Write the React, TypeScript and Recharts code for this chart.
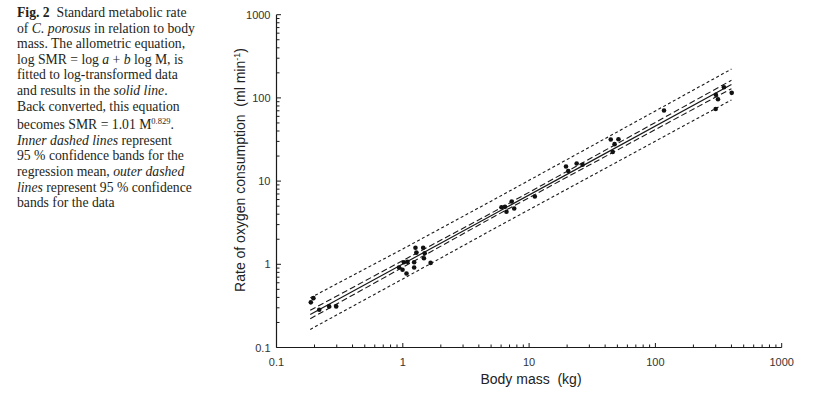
import { ComposedChart, Line, Scatter, XAxis, YAxis } from 'recharts';

// body mass (kg) and standard metabolic rate (ml/min) of each animal
const massKg = [
  0.187, 0.196, 0.218, 0.261, 0.297,
  0.933, 0.995, 1.02, 1.09, 1.07, 1.23, 1.23, 1.26, 1.28, 1.45, 1.49, 1.47, 1.66,
  6.04, 6.44, 6.62, 7.28, 7.62, 11.1,
  19.6, 20.4, 23.8, 26.5,
  44.3, 51.0, 47.5, 45.9,
  117,
  301, 349, 402, 313, 300,
];
const smrMl = [
  0.349, 0.392, 0.284, 0.312, 0.312,
  0.916, 0.859, 1.06, 1.07, 0.775, 1.06, 0.916, 1.58, 1.38, 1.58, 1.36, 1.18, 1.04,
  4.84, 4.91, 4.28, 5.69, 4.69, 6.53,
  15.0, 13.2, 16.3, 15.7,
  31.6, 31.9, 27.8, 22.4,
  70.6,
  109, 134, 115, 96.2, 73.6,
];

// fitted line and the two confidence bands, read at a few masses
const bandMass = [0.185, 1, 5, 30, 400];
const fitLine = [0.249, 1.01, 3.84, 16.9, 145];
const meanUpper = [0.28, 1.11, 4.11, 18.4, 163];
const meanLower = [0.222, 0.92, 3.58, 15.6, 129];
const dataUpper = [0.395, 1.53, 5.74, 25.5, 222];
const dataLower = [0.165, 0.667, 2.56, 11.2, 94.6];

const decades = [0.1, 1, 10, 100, 1000];
const steps = [1, 2, 3, 4, 5, 6, 7, 8, 9];
const logTicks = [
  ...decades.slice(0, -1).flatMap((d) => steps.map((k) => Number((k * d).toPrecision(2)))),
  1000,
];

const points = massKg.map((m, i) => ({ m, v: smrMl[i] }));
const band = (vals: number[]) => bandMass.map((m, i) => ({ m, v: vals[i] }));

const INK = '#1a1a1a';
const AXIS_FONT = 'Liberation Sans, Arial, sans-serif';

const XTick = (props: any) => {
  const { x, y, payload } = props;
  const major = decades.includes(payload.value);
  return (
    <g>
      <line x1={x} y1={y} x2={x} y2={y - (major ? 4.5 : 3)} stroke={INK} strokeWidth={1} />
      {major && (
        <text x={x} y={y + 18} textAnchor="middle" fontSize={11} fill="#333" fontFamily={AXIS_FONT}>
          {String(payload.value)}
        </text>
      )}
    </g>
  );
};

const YTick = (props: any) => {
  const { x, y, payload } = props;
  const major = decades.includes(payload.value);
  return (
    <g>
      <line x1={x} y1={y} x2={x + (major ? 4.5 : 3)} y2={y} stroke={INK} strokeWidth={1} />
      {major && (
        <text x={x - 6} y={y + 4} textAnchor="end" fontSize={11} fill="#333" fontFamily={AXIS_FONT}>
          {String(payload.value)}
        </text>
      )}
    </g>
  );
};

const YTitle = () => (
  <text
    x={245}
    y={170}
    transform="rotate(-90, 245, 170)"
    textAnchor="middle"
    fontSize={14}
    fill="#222"
    fontFamily={AXIS_FONT}
  >
    Rate of oxygen consumption{'\u00a0\u00a0'}(ml min
    <tspan dy={-5} fontSize={9}>-1</tspan>
    <tspan dy={5}>)</tspan>
  </text>
);

const XTitle = () => (
  <text x={531} y={384} textAnchor="middle" fontSize={14} fill="#222" fontFamily={AXIS_FONT}>
    Body mass{'\u00a0\u00a0'}(kg)
  </text>
);

const Dot = (p: any) => <circle cx={p.cx} cy={p.cy} r={2.3} fill="#111" />;

const captionLines = [
  <>
    <b>Fig. 2</b>&nbsp; Standard metabolic rate
  </>,
  <>
    of <i>C. porosus</i> in relation to body
  </>,
  <>mass. The allometric equation,</>,
  <>
    log SMR&nbsp;=&nbsp;log <i>a</i>&nbsp;+&nbsp;<i>b</i> log M, is
  </>,
  <>fitted to log-transformed data</>,
  <>
    and results in the <i>solid line</i>.
  </>,
  <>Back converted, this equation</>,
  <>
    becomes SMR&nbsp;=&nbsp;1.01 M<sup style={{ fontSize: 8.5, verticalAlign: 5 }}>0.829</sup>.
  </>,
  <>
    <i>Inner dashed lines</i> represent
  </>,
  <>95 % confidence bands for the</>,
  <>
    regression mean, <i>outer dashed</i>
  </>,
  <>
    <i>lines</i> represent 95 % confidence
  </>,
  <>bands for the data</>,
];

export default function App() {
  return (
    <div style={{ position: 'absolute', left: 0, top: 0, width: 813, height: 398, background: '#fff' }}>
      <div
        style={{
          position: 'absolute',
          left: 17,
          top: 5,
          fontFamily: 'Liberation Serif, Times New Roman, serif',
          fontSize: 13.7,
          lineHeight: '15.6px',
          color: '#231f20',
          whiteSpace: 'nowrap',
        }}
      >
        {captionLines.map((l, i) => (
          <div key={i}>{l}</div>
        ))}
      </div>
      <div style={{ position: 'absolute', left: 0, top: 0 }}>
        <ComposedChart width={813} height={398} margin={{ top: 14.7, right: 31.3, bottom: 20.5, left: 216.5 }}>
          <XAxis
            dataKey="m"
            type="number"
            scale="log"
            domain={[0.1, 1000]}
            allowDataOverflow
            ticks={logTicks}
            interval={0}
            tickSize={0}
            tickMargin={0}
            tick={<XTick />}
            height={30}
            axisLine={{ stroke: INK, strokeWidth: 1.2 }}
            tickLine={false}
          />
          <YAxis
            dataKey="v"
            type="number"
            scale="log"
            domain={[0.1, 1000]}
            allowDataOverflow
            ticks={logTicks}
            interval={0}
            tickSize={0}
            tickMargin={0}
            tick={<YTick />}
            width={60}
            axisLine={{ stroke: INK, strokeWidth: 1.2 }}
            tickLine={false}
          />
          <Line data={band(dataUpper)} dataKey="v" stroke={INK} strokeWidth={1.1} strokeDasharray="3 2.5" dot={false} isAnimationActive={false} />
          <Line data={band(dataLower)} dataKey="v" stroke={INK} strokeWidth={1.1} strokeDasharray="3 2.5" dot={false} isAnimationActive={false} />
          <Line data={band(meanUpper)} dataKey="v" stroke={INK} strokeWidth={1.1} strokeDasharray="6 3" dot={false} isAnimationActive={false} />
          <Line data={band(meanLower)} dataKey="v" stroke={INK} strokeWidth={1.1} strokeDasharray="6 3" dot={false} isAnimationActive={false} />
          <Line data={band(fitLine)} dataKey="v" stroke={INK} strokeWidth={1.2} dot={false} isAnimationActive={false} />
          <Scatter data={points} dataKey="v" shape={<Dot />} isAnimationActive={false} />
          <YTitle />
          <XTitle />
        </ComposedChart>
      </div>
    </div>
  );
}
